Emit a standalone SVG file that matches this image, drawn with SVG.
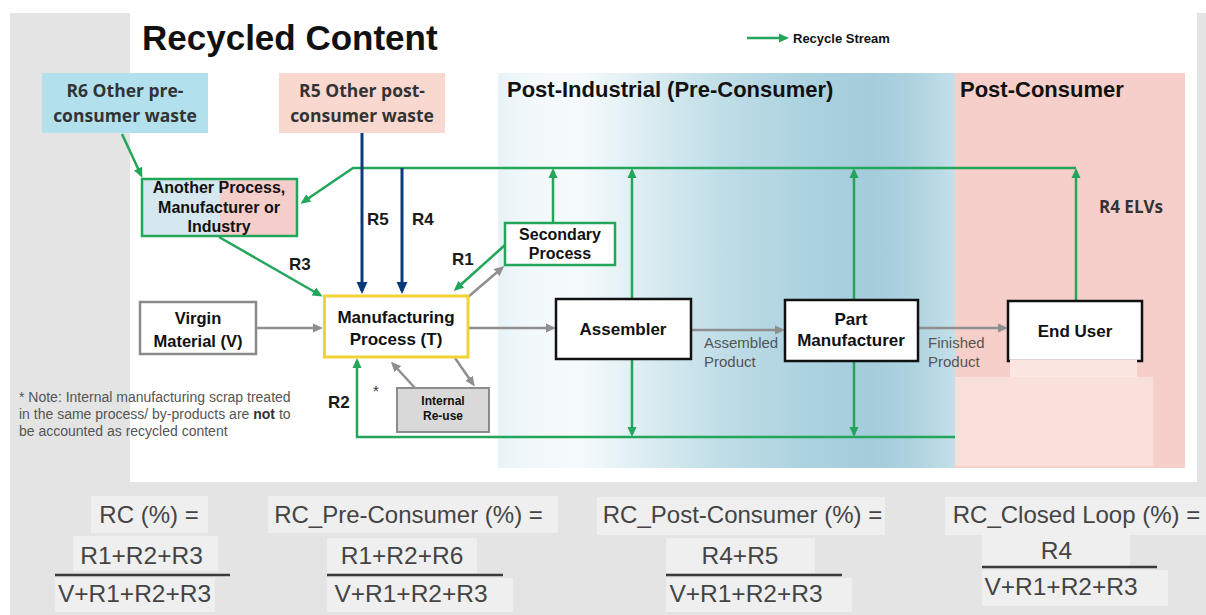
<svg xmlns="http://www.w3.org/2000/svg" width="1206" height="615" viewBox="0 0 1206 615">
<defs>
<linearGradient id="bandGrad" x1="0" y1="0" x2="1" y2="0">
<stop offset="0" stop-color="#e8f3f7"/>
<stop offset="0.08" stop-color="#f3f9fb"/>
<stop offset="0.18" stop-color="#f5fafc"/>
<stop offset="0.32" stop-color="#dcedf2"/>
<stop offset="0.5" stop-color="#bedde7"/>
<stop offset="0.68" stop-color="#abd2df"/>
<stop offset="0.82" stop-color="#a4ccdb"/>
<stop offset="0.92" stop-color="#b0d4e0"/>
<stop offset="1" stop-color="#c4e0e9"/>
</linearGradient>
<marker id="ag" markerUnits="userSpaceOnUse" markerWidth="10" markerHeight="10" refX="7" refY="5" orient="auto"><path d="M0,0.5 L10,5 L0,9.5 z" fill="#23a55a"/></marker>
<marker id="ab" markerUnits="userSpaceOnUse" markerWidth="12" markerHeight="12" refX="9" refY="6" orient="auto"><path d="M0,0.5 L12,6 L0,11.5 z" fill="#0c3a7a"/></marker>
<marker id="ay" markerUnits="userSpaceOnUse" markerWidth="10" markerHeight="10" refX="7" refY="5" orient="auto"><path d="M0,0.5 L10,5 L0,9.5 z" fill="#8f8f8f"/></marker>
</defs>
<style>
.g{fill:none;stroke:#23a55a;stroke-width:2.5}
.b{fill:none;stroke:#0c3a7a;stroke-width:3}
.y{fill:none;stroke:#8f8f8f;stroke-width:2.5}
.nt{font-family:"Liberation Sans",Arial,sans-serif;font-weight:bold;fill:#111;text-anchor:middle}
.lb{font-family:"Liberation Sans",Arial,sans-serif;font-weight:bold;fill:#1a1a1a;font-size:17px}
.os{font-family:"Open Sans","Liberation Sans",sans-serif;font-weight:bold;fill:#333}
.sm{font-family:"Liberation Sans",Arial,sans-serif;fill:#555;font-size:15px}
.fb{fill:#efefef}
.ft{font-family:"Liberation Sans",Arial,sans-serif;fill:#444;text-anchor:middle}
.fl{stroke:#3a3a3a;stroke-width:2.5}
</style>
<!-- backgrounds -->
<rect x="0" y="0" width="1206" height="615" fill="#ffffff"/>
<rect x="10" y="13" width="1196" height="602" fill="#e4e4e4"/>
<rect x="130" y="13" width="1067" height="469" fill="#ffffff"/>
<rect x="498" y="73" width="457" height="395" fill="url(#bandGrad)"/>
<rect x="955" y="73" width="230" height="395" fill="#f6cfcb"/>
<rect x="955" y="377" width="198" height="89" fill="#f9e0db"/>

<text x="142" y="50" font-family="Liberation Sans, Arial, sans-serif" font-weight="bold" font-size="35" fill="#111">Recycled Content</text>
<g id="legend">
<path class="g" d="M747,38 H786" marker-end="url(#ag)"/>
<text x="793" y="43" font-family="Liberation Sans, Arial, sans-serif" font-weight="bold" font-size="13" fill="#111">Recycle Stream</text>
</g>
<text x="507" y="97" font-family="Liberation Sans, Arial, sans-serif" font-weight="bold" font-size="22" fill="#111">Post-Industrial (Pre-Consumer)</text>
<text x="960" y="97" font-family="Liberation Sans, Arial, sans-serif" font-weight="bold" font-size="22" fill="#111">Post-Consumer</text>

<g id="connectors">
<path class="g" d="M122,134 L141,175" marker-end="url(#ag)"/>
<path class="g" d="M1076,168 H353 L303,202" marker-end="url(#ag)"/>
<path class="g" d="M553,223 V171" marker-end="url(#ag)"/>
<path class="g" d="M632,298 V171" marker-end="url(#ag)"/>
<path class="g" d="M854,300 V171" marker-end="url(#ag)"/>
<path class="g" d="M1076,301 V171" marker-end="url(#ag)"/>
<path class="g" d="M219,237 L320,295" marker-end="url(#ag)"/>
<path class="g" d="M505,245 L456,289" marker-end="url(#ag)"/>
<path class="g" d="M632,360 V434" marker-end="url(#ag)"/>
<path class="g" d="M854,361 V434" marker-end="url(#ag)"/>
<path class="g" d="M955,437 H357 V361" marker-end="url(#ag)"/>
<path class="b" d="M362,133 V291" marker-end="url(#ab)"/>
<path class="b" d="M402,168 V291" marker-end="url(#ab)"/>
<path class="y" d="M256,328 H320" marker-end="url(#ay)"/>
<path class="y" d="M468,328 H553" marker-end="url(#ay)"/>
<path class="y" d="M691,330 H782" marker-end="url(#ay)"/>
<path class="y" d="M918,328 H1005" marker-end="url(#ay)"/>
<path class="y" d="M468,297 L502,268" marker-end="url(#ay)"/>
<path class="y" d="M455,358 L473,384" marker-end="url(#ay)"/>
<path class="y" d="M415,388 L393,364" marker-end="url(#ay)"/>
</g>

<g id="r6">
<rect x="42" y="73" width="166" height="60" fill="#b3e0ed"/>
<text class="os" x="125" y="97" font-size="17.5" text-anchor="middle">R6 Other pre-</text>
<text class="os" x="125" y="122" font-size="17.5" text-anchor="middle">consumer waste</text>
</g>
<g id="r5">
<rect x="279" y="73" width="166" height="60" fill="#f9d8cf"/>
<text class="os" x="362" y="97" font-size="17.5" text-anchor="middle">R5 Other post-</text>
<text class="os" x="362" y="122" font-size="17.5" text-anchor="middle">consumer waste</text>
</g>
<g id="another">
<rect x="142" y="179" width="78" height="57" fill="#d6e8ef"/>
<rect x="220" y="179" width="77" height="57" fill="#f5cdcb"/>
<rect x="142" y="179" width="155" height="57" fill="none" stroke="#23a55a" stroke-width="2.5"/>
<text class="nt" x="219" y="193" font-size="16">Another Process,</text>
<text class="nt" x="219" y="213" font-size="16">Manufacturer or</text>
<text class="nt" x="219" y="232" font-size="16">Industry</text>
</g>
<g id="virgin">
<rect x="140" y="302" width="116" height="52" fill="#fff" stroke="#8a8a8a" stroke-width="2.5"/>
<text class="nt" x="198" y="324" font-size="16.5">Virgin</text>
<text class="nt" x="198" y="347" font-size="16.5">Material (V)</text>
</g>
<g id="manufacturing">
<rect x="324.5" y="296" width="143.5" height="61" fill="#fff" stroke="#f2d335" stroke-width="3"/>
<text class="nt" x="396" y="323" font-size="17">Manufacturing</text>
<text class="nt" x="396" y="345" font-size="17">Process (T)</text>
</g>
<g id="secondary">
<rect x="505" y="223" width="110" height="42" fill="#fff" stroke="#23a55a" stroke-width="2.5"/>
<text class="nt" x="560" y="240" font-size="16">Secondary</text>
<text class="nt" x="560" y="259" font-size="16">Process</text>
</g>
<g id="internal">
<rect x="397" y="388" width="92" height="44" fill="#d9d9d9" stroke="#8c8c8c" stroke-width="2"/>
<text class="nt" x="443" y="405" font-size="12" fill="#222">Internal</text>
<text class="nt" x="443" y="420" font-size="12" fill="#222">Re-use</text>
</g>
<g id="assembler">
<rect x="556" y="299" width="135" height="60" fill="#fff" stroke="#111" stroke-width="2.5"/>
<text class="nt" x="623" y="335" font-size="17">Assembler</text>
</g>
<g id="partmanufacturer">
<rect x="785" y="300" width="133" height="61" fill="#fff" stroke="#111" stroke-width="2.5"/>
<text class="nt" x="851" y="325" font-size="17">Part</text>
<text class="nt" x="851" y="346" font-size="17">Manufacturer</text>
</g>
<g id="enduser">
<rect x="1008" y="301" width="134" height="60" fill="#fff" stroke="#111" stroke-width="2.5"/>
<rect x="1010" y="359.5" width="127" height="17.5" fill="#fbe6e2"/>
<text class="nt" x="1075" y="337" font-size="17">End User</text>
</g>

<g id="labels">
<text class="lb" x="367" y="225">R5</text>
<text class="lb" x="412" y="225">R4</text>
<text class="lb" x="289" y="270">R3</text>
<text class="lb" x="452" y="265">R1</text>
<text class="lb" x="328" y="408">R2</text>
<text x="373" y="396" font-family="Liberation Sans, Arial, sans-serif" font-size="15" fill="#333">*</text>
<text class="os" x="1099" y="213" font-size="17">R4 ELVs</text>
<text class="sm" x="704" y="348">Assembled</text>
<text class="sm" x="704" y="367">Product</text>
<text class="sm" x="928" y="348">Finished</text>
<text class="sm" x="928" y="367">Product</text>
</g>
<g id="note" font-family="Liberation Sans, Arial, sans-serif" font-size="14" fill="#555">
<text x="19" y="402">* Note: Internal manufacturing scrap treated</text>
<text x="19" y="419">in the same process/ by-products are <tspan font-weight="bold" fill="#333">not</tspan> to</text>
<text x="19" y="436">be accounted as recycled content</text>
</g>

<g id="formula1">
<rect class="fb" x="91" y="496" width="117" height="37"/>
<rect class="fb" x="73" y="536" width="145" height="35"/>
<rect class="fb" x="55" y="578" width="160" height="34"/>
<line class="fl" x1="55" y1="575" x2="230" y2="575"/>
<text class="ft" x="149" y="523" font-size="24">RC (%) =</text>
<text class="ft" x="141.5" y="564" font-size="24.5">R1+R2+R3</text>
<text class="ft" x="134.5" y="602" font-size="24.5">V+R1+R2+R3</text>
</g>
<g id="formula2">
<rect class="fb" x="268" y="496" width="290" height="37"/>
<rect class="fb" x="327" y="538" width="150" height="35"/>
<rect class="fb" x="327" y="578" width="186" height="34"/>
<line class="fl" x1="327" y1="575" x2="503" y2="575"/>
<text class="ft" x="408.5" y="523" font-size="24">RC_Pre-Consumer (%) =</text>
<text class="ft" x="402" y="564" font-size="24.5">R1+R2+R6</text>
<text class="ft" x="411" y="602" font-size="24.5">V+R1+R2+R3</text>
</g>
<g id="formula3">
<rect class="fb" x="597" y="497" width="288" height="38"/>
<rect class="fb" x="666" y="538" width="149" height="35"/>
<rect class="fb" x="666" y="578" width="186" height="34"/>
<line class="fl" x1="666" y1="575" x2="842" y2="575"/>
<text class="ft" x="742.5" y="523" font-size="24">RC_Post-Consumer (%) =</text>
<text class="ft" x="740" y="564" font-size="24.5">R4+R5</text>
<text class="ft" x="746" y="602" font-size="24.5">V+R1+R2+R3</text>
</g>
<g id="formula4">
<rect class="fb" x="945" y="497" width="261" height="38"/>
<rect class="fb" x="982" y="535" width="148" height="31"/>
<rect class="fb" x="982" y="570" width="186" height="36"/>
<line class="fl" x1="982" y1="567" x2="1157" y2="567"/>
<text class="ft" x="1076.5" y="523" font-size="24">RC_Closed Loop (%) =</text>
<text class="ft" x="1056.5" y="559" font-size="24.5">R4</text>
<text class="ft" x="1061" y="595" font-size="24.5">V+R1+R2+R3</text>
</g>
</svg>
